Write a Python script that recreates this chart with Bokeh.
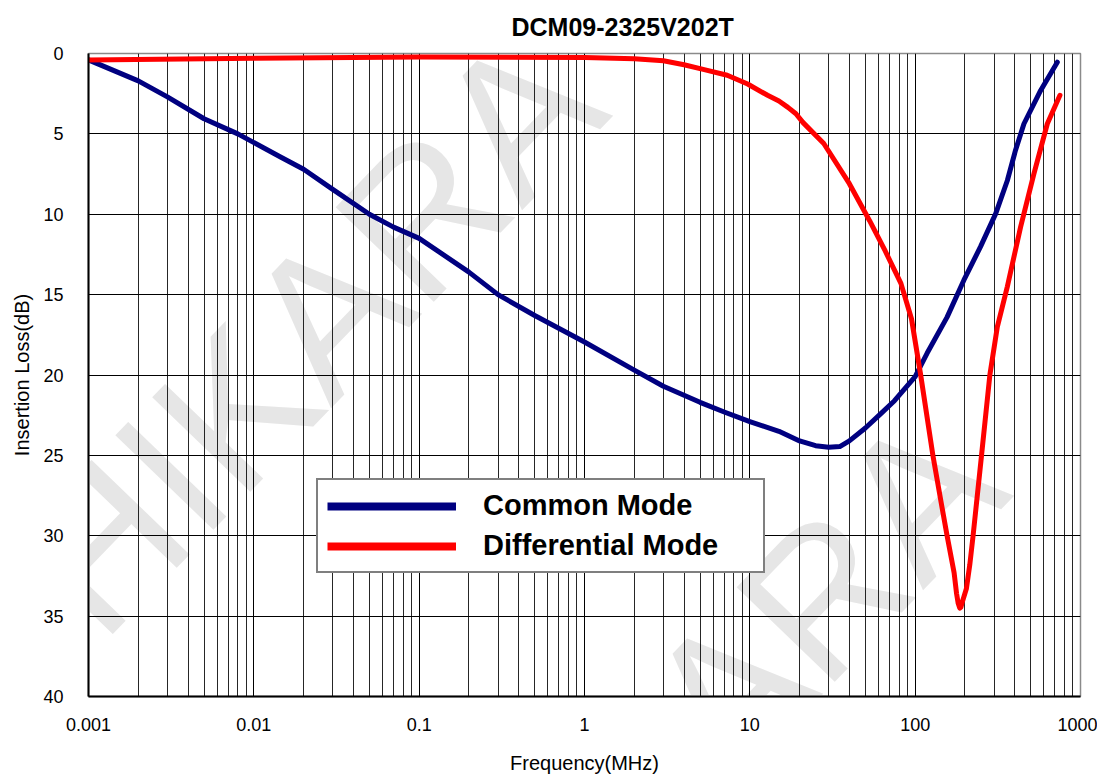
import math
from bokeh.plotting import figure
from bokeh.models import (Range1d, FixedTicker, CustomJSTickFormatter, Legend, LegendItem,
                          Label, ColumnDataSource)
from bokeh.embed import file_html
from bokeh.resources import INLINE

title_text = "DCM09-2325V202T"
x_label = "Frequency(MHz)"
y_label = "Insertion Loss(dB)"
series_names = ["Common Mode", "Differential Mode"]
watermark = "CHIKARA"

x_ticks = [0.001, 0.01, 0.1, 1, 10, 100, 1000]
x_tick_labels = ["0.001", "0.01", "0.1", "1", "10", "100", "1000"]
y_ticks = [0, 5, 10, 15, 20, 25, 30, 35, 40]

cm_freq = [0.001, 0.002, 0.003, 0.005, 0.008, 0.0145, 0.02, 0.03, 0.05, 0.07, 0.1, 0.2, 0.3,
           0.5, 1, 2, 3, 5, 7, 10, 15, 20, 25, 30, 35, 40, 50, 62, 75, 100, 118, 156, 197,
           249, 307, 361, 405, 455, 574, 724]
cm_loss = [0.4, 1.7, 2.7, 4.06, 5.0, 6.44, 7.2, 8.45, 10.0, 10.8, 11.5, 13.6, 15.0,
           16.3, 17.95, 19.7, 20.7, 21.7, 22.3, 22.9, 23.5, 24.1, 24.4, 24.5, 24.45, 24.1,
           23.3, 22.4, 21.6, 20.1, 18.65, 16.4, 14.1, 12.0, 9.96, 7.9, 6.0, 4.37, 2.3, 0.54]

dm_freq = [0.001, 0.01, 0.1, 1, 2, 3, 4, 5.3, 7.3, 9.7, 12.8, 15, 17, 19, 21, 28, 40, 53,
           66, 82, 95, 108, 128, 144, 156, 172, 178, 182, 186, 189, 193, 204, 214, 224, 252,
           283, 314, 361, 434, 523, 630, 751]
dm_loss = [0.4, 0.3, 0.22, 0.25, 0.33, 0.45, 0.7, 1.0, 1.35, 1.9, 2.6, 2.95, 3.35, 3.75,
           4.3, 5.6, 8.1, 10.4, 12.3, 14.3, 16.5, 20.0, 25.0, 28.0, 30.0, 32.3, 33.6, 34.2,
           34.5, 34.45, 34.1, 33.3, 31.8, 30.0, 25.0, 20.0, 17.0, 14.5, 10.8, 7.47, 4.37, 2.6]

cm_color = "#000080"
dm_color = "#FF0000"
FONT = "Liberation Sans"

p = figure(width=1097, height=776, x_axis_type="log",
           x_range=Range1d(0.001, 1000), y_range=Range1d(40, 0),
           output_backend="svg", toolbar_location=None,
           min_border_left=88, min_border_right=17, min_border_top=53, min_border_bottom=79)

# title: panel exactly fills the top border, text anchored high and offset right
p.title.text = title_text
p.title.align = "left"
p.title.offset = 423
p.title.vertical_align = "top"
p.title.standoff = 22
p.title.text_font = FONT
p.title.text_font_style = "bold"
p.title.text_font_size = "25px"
p.title.text_color = "black"

# watermark (behind everything)
for wx, wy in [(170, 312), (571, -68)]:
    p.add_layout(Label(x=wx, y=wy, x_units="screen", y_units="screen", text=watermark,
                       angle=math.radians(46), text_align="center", text_baseline="middle",
                       text_font=FONT, text_font_size="198px",
                       text_color="#e6e6e6", level="image"))

# axes
minor = [k * 10.0 ** e for e in range(-3, 3) for k in range(2, 10)]
p.xaxis.ticker = FixedTicker(ticks=x_ticks, minor_ticks=minor)
p.xaxis.formatter = CustomJSTickFormatter(args=dict(labels=x_tick_labels),
                                          code="return labels[index];")
p.yaxis.ticker = FixedTicker(ticks=y_ticks)
for ax in (p.xaxis, p.yaxis):
    ax.major_tick_in = 0
    ax.major_tick_out = 0
    ax.minor_tick_in = 0
    ax.minor_tick_out = 0
    ax.axis_line_color = "black"
    ax.axis_line_width = 2
    ax.major_label_text_font = FONT
    ax.major_label_text_font_size = "18px"
    ax.major_label_text_color = "black"
    ax.axis_label_text_font = FONT
    ax.axis_label_text_font_size = "20px"
    ax.axis_label_text_font_style = "normal"
    ax.axis_label_text_color = "black"
p.xaxis.axis_label = x_label
p.yaxis.axis_label = y_label
p.xaxis.major_label_standoff = 21
p.xaxis.axis_label_standoff = 18
p.yaxis.major_label_standoff = 25
p.yaxis.axis_label_standoff = 7

# grids
p.xgrid.grid_line_color = "black"
p.xgrid.grid_line_width = 1
p.xgrid.minor_grid_line_color = "black"
p.xgrid.minor_grid_line_width = 1
p.xgrid.minor_grid_line_alpha = 0.85
p.ygrid.grid_line_color = "black"
p.ygrid.grid_line_width = 1

p.outline_line_color = "#8a8a8a"
p.outline_line_width = 1.5
p.background_fill_color = "white"
p.border_fill_color = "white"

# curves
p.line(cm_freq, cm_loss, line_color=cm_color, line_width=5, line_join="round", line_cap="round")
p.line(dm_freq, dm_loss, line_color=dm_color, line_width=5, line_join="round", line_cap="round")

# legend (thicker sample lines than the curves)
src_cm = ColumnDataSource(data=dict(x=[1.0], y=[float("nan")]))
src_dm = ColumnDataSource(data=dict(x=[1.0], y=[float("nan")]))
lg_cm = p.line("x", "y", source=src_cm, line_color=cm_color, line_width=8)
lg_dm = p.line("x", "y", source=src_dm, line_color=dm_color, line_width=8)
legend = Legend(items=[LegendItem(label=series_names[0], renderers=[lg_cm]),
                       LegendItem(label=series_names[1], renderers=[lg_dm])],
                location=(228, 123), orientation="vertical",
                glyph_width=129, glyph_height=30, label_standoff=27, label_width=271,
                padding=9, spacing=7, margin=0,
                border_line_color="black", border_line_width=2,
                background_fill_color="white", background_fill_alpha=1.0,
                label_text_font=FONT, label_text_font_style="bold",
                label_text_font_size="29px", label_text_color="black")
p.add_layout(legend, "center")

open("out.html", "w").write(file_html(p, INLINE))
